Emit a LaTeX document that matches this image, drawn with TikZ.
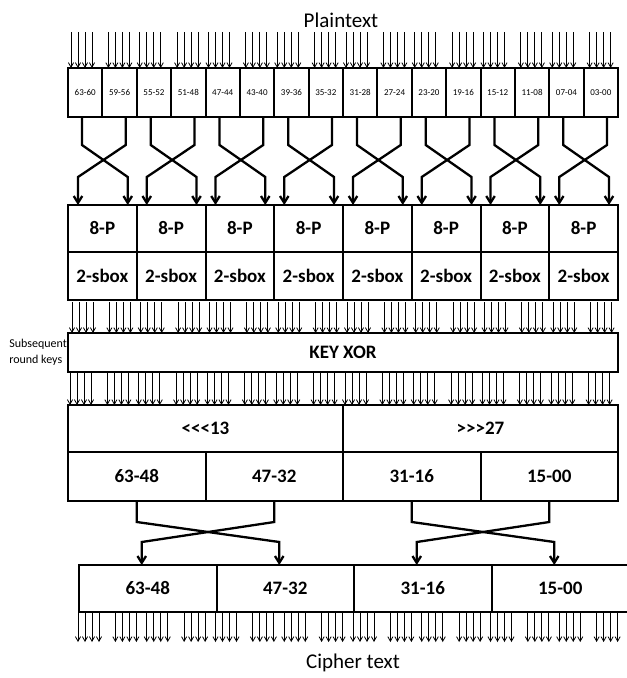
\documentclass[tikz,border=0pt]{standalone}
\usepackage{fontspec}
\setmainfont{Carlito}[Ligatures=TeXOff]
\usetikzlibrary{arrows.meta, positioning, calc}

\begin{document}
\begin{tikzpicture}[
    x=1pt, y=-1pt,
    cell/.style={draw, line width=2pt, inner sep=0pt, outer sep=0pt, anchor=north west,
        font=\bfseries\fontsize{19}{19}\selectfont},
    nib/.style={cell, minimum width=34.375pt, minimum height=49pt, font=\fontsize{9}{9}\selectfont},
    pin/.style={-{Straight Barb[length=1.6mm, width=1.8mm]}, line width=0.8pt},
    cross/.style={-{Straight Barb[length=2.4mm, width=3mm]}, line width=2.3pt},
    lbl/.style={font=\fontsize{21}{21}\selectfont}
]
\useasboundingbox (0,0) rectangle (627,678);
\node[lbl] (plain) at (341,20) {Plaintext};

% nibble boxes and their inputs
\foreach \n [count=\i from 0] in {63-60,59-56,55-52,51-48,47-44,43-40,39-36,35-32,
    31-28,27-24,23-20,19-16,15-12,11-08,07-04,03-00} {
  \node[nib] (t\i) at (68+34.375*\i,68) {\n};
}
\foreach \i in {0,...,15} {
  \foreach \j in {0,...,3} {
    \pgfmathsetmacro\xx{(mod(\i,2)==0 ? 3 : 6)+7*\j}
    \draw[pin] ($(t\i.north west)+(\xx,-36)$) -- ($(t\i.north west)+(\xx,0)$);
  }
}

% 8-P / 2-sbox
\foreach \k in {0,...,7} {
  \node[cell, minimum width=68.75pt, minimum height=47pt] (p\k) at (68+68.75*\k,205) {8-P};
  \node[cell, minimum width=68.75pt, minimum height=48pt] (s\k) at (68+68.75*\k,252) {2-sbox};
}
\foreach \k in {0,...,7} {
  \pgfmathtruncatemacro\a{2*\k}
  \pgfmathtruncatemacro\b{2*\k+1}
  \draw[cross] ($(t\a.south west)+(14,0)$) -- ++(0,28) -- ($(p\k.north east)+(-9,-28)$) -- ($(p\k.north east)+(-9,0)$);
  \draw[cross] ($(t\b.south east)+(-11,0)$) -- ++(0,28) -- ($(p\k.north west)+(10,-28)$) -- ($(p\k.north west)+(10,0)$);
}

% key xor
\node[cell, minimum width=550pt, minimum height=39pt] (kx) at (68,333) {KEY XOR};
\node[left=1pt of kx, inner sep=0pt, align=left, font=\fontsize{12}{16}\selectfont] (rk) {Subsequent\\round keys};
\foreach \i in {0,...,15} {
  \foreach \j in {0,...,3} {
    \pgfmathsetmacro\xx{34.375*\i+(mod(\i,2)==0 ? 4 : 7)+7*\j}
    \draw[pin] ($(kx.north west)+(\xx,-31)$) -- ($(kx.north west)+(\xx,0)$);
  }
}

% rotations
\node[cell, minimum width=275pt, minimum height=47pt] (rl) at (68,405) {<<<13};
\node[cell, minimum width=275pt, minimum height=47pt] (rr) at (343,405) {>>>27};
\foreach \i in {0,...,15} {
  \foreach \j in {0,...,3} {
    \pgfmathsetmacro\xx{34.375*\i+(mod(\i,2)==0 ? 2 : 5)+7*\j}
    \draw[pin] ($(rl.north west)+(\xx,-33)$) -- ($(rl.north west)+(\xx,0)$);
  }
}
\foreach \n [count=\k from 0] in {63-48,47-32,31-16,15-00} {
  \node[cell, minimum width=137.5pt, minimum height=49pt] (h\k) at (68+137.5*\k,452) {\n};
  \node[cell, minimum width=137.5pt, minimum height=47pt] (c\k) at (79+137.5*\k,565) {\n};
}

% half swaps
\draw[cross] (h0.south) -- ++(0,21) -- ($(c1.north)+(-6,-23)$) -- ($(c1.north)+(-6,0)$);
\draw[cross] (h1.south) -- ++(0,21) -- ($(c0.north)+(-6,-23)$) -- ($(c0.north)+(-6,0)$);
\draw[cross] (h2.south) -- ++(0,21) -- ($(c3.north)+(-6,-23)$) -- ($(c3.north)+(-6,0)$);
\draw[cross] (h3.south) -- ++(0,21) -- ($(c2.north)+(-6,-23)$) -- ($(c2.north)+(-6,0)$);

% outputs
\foreach \i in {0,...,15} {
  \foreach \j in {0,...,3} {
    \pgfmathsetmacro\xx{34.375*\i+(mod(\i,2)==0 ? -1 : 2)+7*\j}
    \draw[pin] ($(c0.south west)+(\xx,0)$) -- ($(c0.south west)+(\xx,30)$);
  }
}
\node[lbl] (cipher) at (353,663) {Cipher text};
\end{tikzpicture}
\end{document}
